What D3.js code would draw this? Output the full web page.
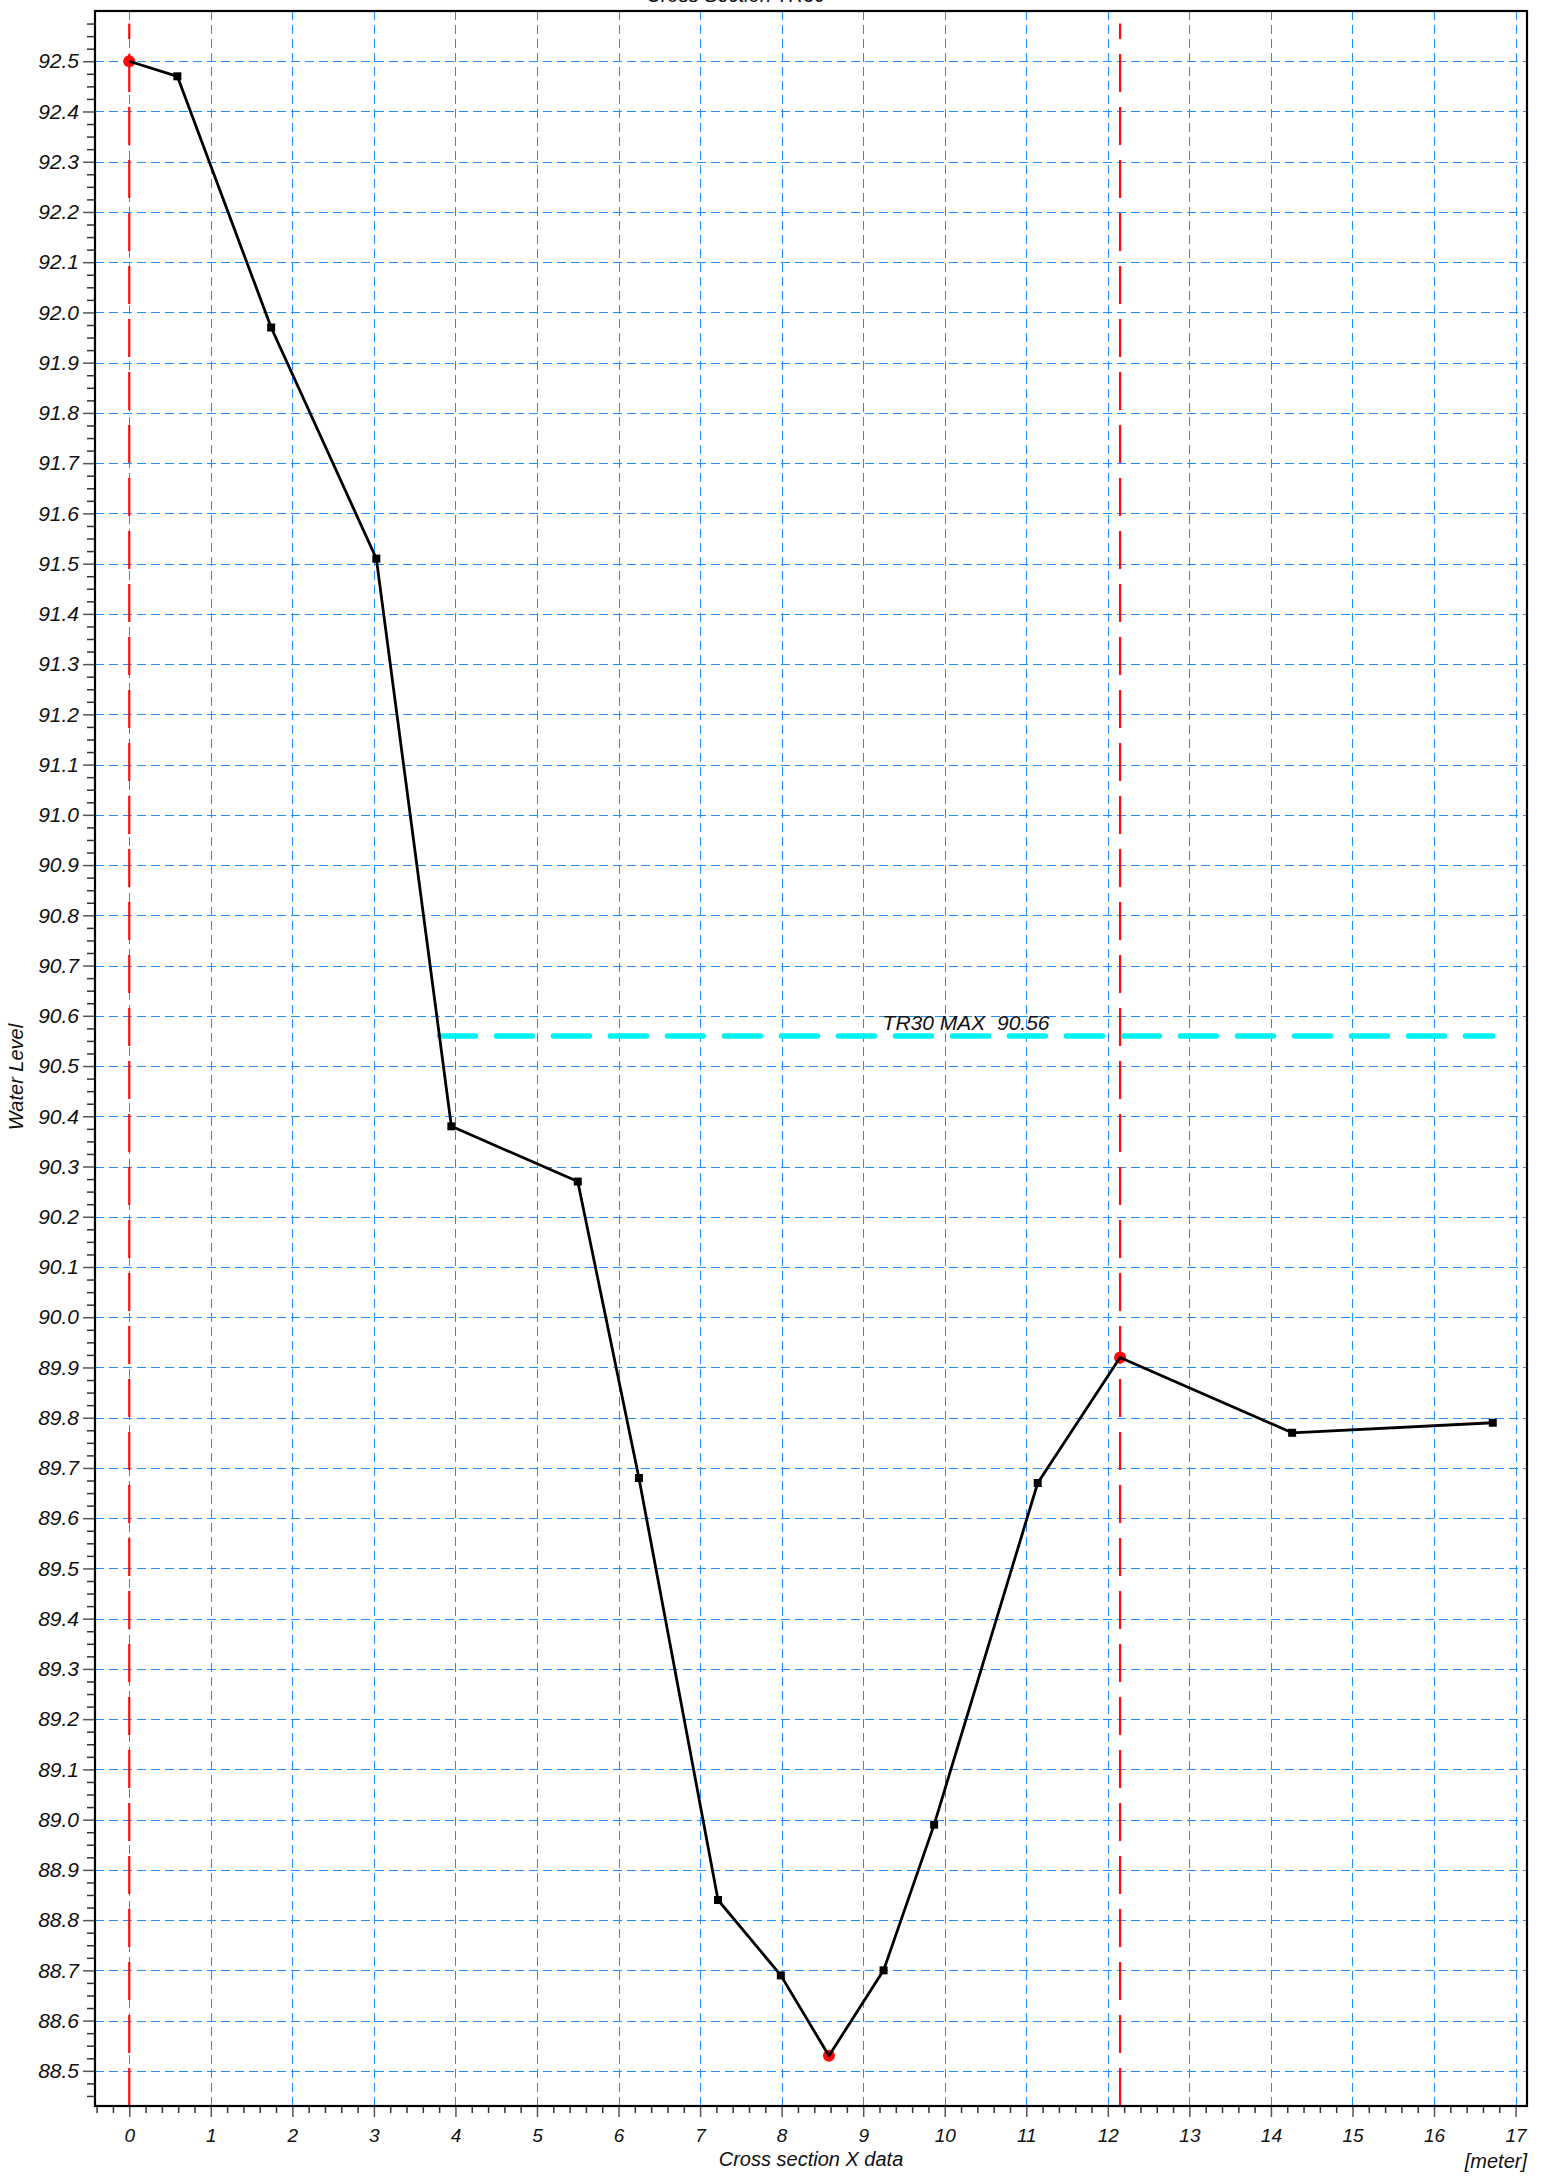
<!DOCTYPE html>
<html>
<head>
<meta charset="utf-8">
<script src="https://cdn.jsdelivr.net/npm/d3@7"></script>
<style>
  html, body { margin: 0; padding: 0; background: #fff; }
  svg { display: block; }
  text { font-family: "Liberation Sans", Arial, Helvetica, sans-serif; font-style: italic; fill: #111; }
</style>
</head>
<body>
<script>
// ---- data ----
const titleText = "Cross Section TR30";
const xLabel = "Cross section X data";
const xUnit = "[meter]";
const yLabel = "Water Level";
const xValues = [0, 0.59, 1.74, 3.03, 3.95, 5.50, 6.25, 7.22, 7.99, 8.58, 9.25, 9.87, 11.14, 12.15, 14.26, 16.72];
const yValues = [92.50, 92.47, 91.97, 91.51, 90.38, 90.27, 89.68, 88.84, 88.69, 88.53, 88.70, 88.99, 89.67, 89.92, 89.77, 89.79];
const markerTypes = ["circle","square","square","square","square","square","square","square","square","circle","square","square","square","circle","square","square"];
const bankLines = [0, 12.15];
const waterName = "TR30 MAX";
const waterLevel = 90.56;
const xTickValues = [0,1,2,3,4,5,6,7,8,9,10,11,12,13,14,15,16,17];
const yTickValues = [88.5,88.6,88.7,88.8,88.9,89.0,89.1,89.2,89.3,89.4,89.5,89.6,89.7,89.8,89.9,90.0,90.1,90.2,90.3,90.4,90.5,90.6,90.7,90.8,90.9,91.0,91.1,91.2,91.3,91.4,91.5,91.6,91.7,91.8,91.9,92.0,92.1,92.2,92.3,92.4,92.5];
const xDomain = [-0.42, 17.14];
const yDomain = [88.43, 92.6];

// ---- layout ----
const W = 1548, H = 2179;
const L = 95, R = 1527, T = 11, B = 2106;

const svg = d3.select("body").append("svg").attr("width", W).attr("height", H);

const x = d3.scaleLinear().domain(xDomain).range([L, R]);
const y = d3.scaleLinear().domain(yDomain).range([B, T]);

const points = xValues.map((v, i) => ({x: v, y: yValues[i], type: markerTypes[i]}));

// title (cut off at the page top, as in the reference)
svg.append("text").attr("x", 736).attr("y", 1.5).attr("text-anchor", "middle")
  .style("font-size", "20px").text(titleText);

// grid
const grid = svg.append("g").attr("stroke", "#1E90FF").attr("stroke-width", 1).attr("stroke-dasharray", "9,5").attr("fill", "none");
grid.selectAll("line.gx").data(xTickValues).join("line")
  .attr("x1", d => Math.round(x(d)) + 0.5).attr("x2", d => Math.round(x(d)) + 0.5)
  .attr("y1", T).attr("y2", B);
grid.selectAll("line.gy").data(yTickValues).join("line")
  .attr("y1", d => Math.round(y(d)) + 0.5).attr("y2", d => Math.round(y(d)) + 0.5)
  .attr("x1", L).attr("x2", R);

// axes
const xMinor = d3.range(-0.4, 17.01, 0.2).map(v => +v.toFixed(2)).filter(v => Math.abs(v - Math.round(v)) > 1e-6);
const yMinor = d3.range(88.45, 92.58, 0.025).map(v => +v.toFixed(3)).filter(v => Math.abs(v * 10 - Math.round(v * 10)) > 1e-6);

const xAxisMinor = d3.axisBottom(x).tickValues(xMinor).tickSize(7).tickFormat("");
const xAxisMajor = d3.axisBottom(x).tickValues(xTickValues).tickSize(11).tickPadding(12).tickFormat(d3.format("d"));
const yAxisMinor = d3.axisLeft(y).tickValues(yMinor).tickSize(8).tickFormat("");
const yAxisMajor = d3.axisLeft(y).tickValues(yTickValues).tickSize(12).tickPadding(4).tickFormat(d3.format(".1f"));

function styleAxis(g, size, color) {
  g.select(".domain").remove();
  g.selectAll(".tick line").attr("stroke", color).attr("stroke-width", 1.5);
  g.selectAll(".tick text").style("font-size", size + "px").style("font-family", "'Liberation Sans', Arial, sans-serif").style("font-style", "italic").attr("fill", "#111");
}
svg.append("g").attr("transform", `translate(0,${B})`).call(xAxisMinor).call(g => styleAxis(g, 19, "#333"));
svg.append("g").attr("transform", `translate(0,${B})`).call(xAxisMajor).call(g => styleAxis(g, 19, "#555"));
svg.append("g").attr("transform", `translate(${L},0)`).call(yAxisMinor).call(g => styleAxis(g, 21, "#333"));
svg.append("g").attr("transform", `translate(${L},0)`).call(yAxisMajor).call(g => styleAxis(g, 21, "#555"));

// axis labels
svg.append("text").attr("x", 811).attr("y", 2166).attr("text-anchor", "middle").style("font-size", "20px").text(xLabel);
svg.append("text").attr("x", R).attr("y", 2168).attr("text-anchor", "end").style("font-size", "20px").text(xUnit);
svg.append("text").attr("transform", `translate(23,1077) rotate(-90)`).attr("text-anchor", "middle").style("font-size", "20px").text(yLabel);

// bank lines (red dashed)
svg.selectAll("line.bank").data(bankLines).join("line")
  .attr("x1", d => x(d)).attr("x2", d => x(d))
  .attr("y1", B).attr("y2", y(92.575))
  .attr("stroke", "#FF0a0a").attr("stroke-width", 2.2).attr("stroke-dasharray", "38,15");

// water level line (cyan dashed), from crossing point to last point
let xStart = xValues[0];
for (let i = 0; i < xValues.length - 1; i++) {
  const a = yValues[i], b = yValues[i + 1];
  if ((a - waterLevel) * (b - waterLevel) <= 0 && a !== b) {
    xStart = xValues[i] + (a - waterLevel) / (a - b) * (xValues[i + 1] - xValues[i]);
    break;
  }
}
const xEnd = xValues[xValues.length - 1];
svg.append("line")
  .attr("x1", x(xStart)).attr("x2", x(xEnd))
  .attr("y1", y(waterLevel)).attr("y2", y(waterLevel))
  .attr("stroke", "#00F2F2").attr("stroke-width", 5.5).attr("stroke-linecap", "round")
  .attr("stroke-dasharray", "36,21");
svg.append("text").attr("x", x((xStart + xEnd) / 2)).attr("y", y(waterLevel) - 6)
  .attr("text-anchor", "middle").style("font-size", "21px").style("white-space", "pre")
  .text(waterName + "\u00a0 " + d3.format(".2f")(waterLevel));

// red circle markers (beneath line)
svg.selectAll("circle.pt").data(points.filter(p => p.type === "circle")).join("circle")
  .attr("cx", d => x(d.x)).attr("cy", d => y(d.y)).attr("r", 6).attr("fill", "#FF0a0a");

// profile line
const line = d3.line().x(d => x(d.x)).y(d => y(d.y));
svg.append("path").datum(points).attr("d", line).attr("fill", "none")
  .attr("stroke", "#000").attr("stroke-width", 2.8).attr("stroke-linejoin", "round");

// square markers
svg.selectAll("rect.pt").data(points.filter(p => p.type === "square")).join("rect")
  .attr("x", d => x(d.x) - 4).attr("y", d => y(d.y) - 4).attr("width", 8).attr("height", 8).attr("fill", "#000");

// frame
svg.append("rect").attr("x", L).attr("y", T).attr("width", R - L).attr("height", B - T)
  .attr("fill", "none").attr("stroke", "#000").attr("stroke-width", 2.2);
</script>
</body>
</html>
